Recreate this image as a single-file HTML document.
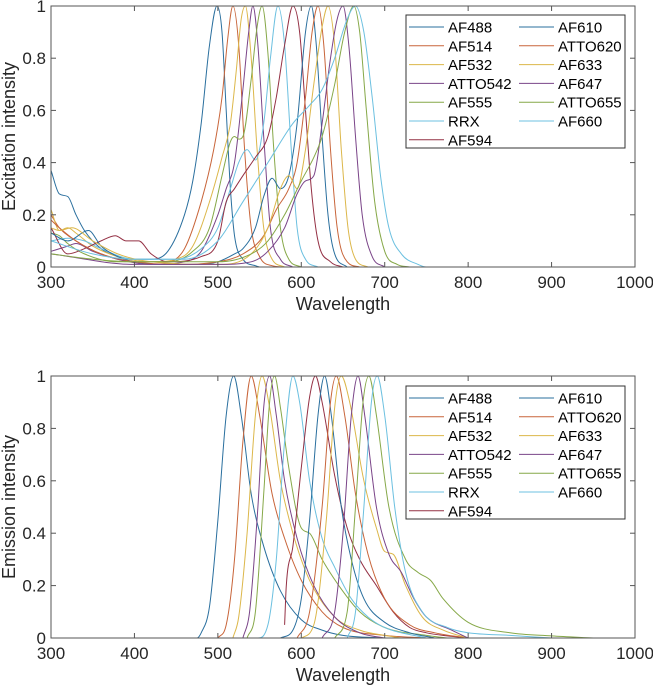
<!DOCTYPE html>
<html><head><meta charset="utf-8"><style>
html,body{margin:0;padding:0;background:#fff;}
svg{display:block;font-family:"Liberation Sans",Arial,sans-serif;}
</style></head><body>
<svg id="chart" width="653" height="690" viewBox="0 0 653 690" xmlns="http://www.w3.org/2000/svg"></svg>
<script>
const dyeNames = ["AF488","AF514","AF532","ATTO542","AF555","RRX","AF594","AF610","ATTO620","AF633","AF647","ATTO655","AF660"];
const xTicks = [300,400,500,600,700,800,900,1000];
const yTicks = [0,0.2,0.4,0.6,0.8,1];
const yTickLabels = ["0","0.2","0.4","0.6","0.8","1"];

const exAF488 = [[300,0.37],[310,0.28],[320,0.27],[330,0.2],[340,0.14],[360,0.07],[380,0.04],[400,0.03],[420,0.03],[440,0.06],[460,0.2],[470,0.33],[480,0.55],[490,0.85],[499,1],[505,0.9],[510,0.6],[515,0.3],[520,0.12],[530,0.03],[545,0.005],[550,0]];
const exAF514 = [[300,0.2],[310,0.15],[330,0.1],[360,0.05],[400,0.02],[440,0.02],[460,0.07],[480,0.25],[495,0.45],[505,0.65],[512,0.88],[518,1],[525,0.85],[532,0.45],[540,0.15],[550,0.04],[565,0.005],[580,0]];
const exAF532 = [[300,0.22],[310,0.14],[320,0.15],[330,0.13],[350,0.08],[380,0.04],[420,0.02],[450,0.03],[470,0.08],[490,0.25],[505,0.42],[515,0.55],[522,0.75],[528,0.95],[533,1],[540,0.8],[547,0.45],[555,0.15],[565,0.03],[580,0]];
const exATTO542 = [[300,0.06],[320,0.08],[330,0.09],[350,0.06],[380,0.03],[420,0.01],[460,0.02],[480,0.06],[500,0.2],[510,0.3],[520,0.4],[530,0.68],[537,0.9],[542,1],[548,0.85],[555,0.5],[563,0.15],[575,0.03],[590,0]];
const exAF555 = [[300,0.13],[310,0.12],[320,0.09],[340,0.05],[380,0.02],[440,0.02],[470,0.06],[490,0.15],[505,0.35],[515,0.48],[520,0.5],[525,0.49],[530,0.5],[540,0.72],[547,0.92],[553,1],[560,0.82],[567,0.45],[575,0.15],[585,0.03],[600,0]];
const exRRX = [[300,0.1],[320,0.11],[340,0.1],[360,0.07],[400,0.03],[450,0.03],[480,0.07],[500,0.15],[515,0.3],[525,0.4],[535,0.45],[545,0.41],[555,0.55],[563,0.8],[572,1],[580,0.85],[588,0.45],[595,0.15],[605,0.03],[620,0]];
const exAF594 = [[300,0.15],[320,0.05],[340,0.07],[360,0.1],[377,0.12],[390,0.1],[405,0.1],[420,0.05],[440,0.02],[480,0.04],[500,0.1],[510,0.25],[520,0.3],[530,0.35],[545,0.42],[560,0.5],[570,0.65],[580,0.85],[590,1],[598,0.9],[605,0.6],[612,0.3],[620,0.1],[635,0.02],[650,0]];
const exAF610 = [[300,0.13],[320,0.1],[345,0.14],[360,0.08],[380,0.04],[400,0.02],[440,0.01],[480,0.01],[500,0.02],[520,0.05],[530,0.07],[545,0.15],[555,0.27],[565,0.34],[575,0.3],[585,0.35],[595,0.55],[605,0.9],[612,1],[618,0.85],[625,0.5],[632,0.2],[640,0.05],[655,0]];
const exATTO620 = [[300,0.18],[310,0.15],[330,0.1],[360,0.05],[400,0.02],[450,0.01],[500,0.02],[530,0.05],[555,0.12],[570,0.22],[585,0.3],[595,0.4],[605,0.65],[613,0.9],[620,1],[627,0.85],[635,0.45],[643,0.15],[655,0.02],[670,0]];
const exAF633 = [[300,0.15],[310,0.14],[325,0.15],[350,0.1],[380,0.05],[420,0.02],[500,0.01],[540,0.05],[560,0.15],[575,0.3],[585,0.35],[595,0.3],[605,0.45],[615,0.7],[625,0.92],[632,1],[640,0.85],[648,0.45],[656,0.15],[665,0.03],[680,0]];
const exAF647 = [[300,0.05],[400,0.01],[500,0.01],[540,0.02],[560,0.06],[580,0.15],[595,0.28],[605,0.33],[615,0.35],[625,0.55],[635,0.8],[643,0.95],[650,1],[657,0.85],[665,0.5],[673,0.2],[685,0.04],[700,0]];
const exATTO655 = [[300,0.05],[350,0.03],[400,0.02],[500,0.02],[540,0.05],[560,0.1],[580,0.2],[600,0.33],[615,0.42],[625,0.5],[640,0.7],[652,0.9],[663,1],[670,0.9],[678,0.6],[688,0.25],[700,0.06],[715,0.01],[730,0]];
const exAF660 = [[300,0.1],[350,0.05],[400,0.03],[460,0.03],[500,0.1],[530,0.25],[560,0.4],[590,0.55],[610,0.62],[625,0.68],[640,0.8],[655,0.95],[665,1],[675,0.9],[685,0.65],[695,0.35],[705,0.15],[720,0.05],[740,0.01],[750,0],[950,0]];

const emAF488 = [[300,0],[475,0],[480,0.02],[490,0.12],[500,0.45],[510,0.85],[519,1],[528,0.85],[540,0.55],[555,0.35],[575,0.18],[600,0.07],[625,0.03],[650,0.01],[700,0]];
const emAF514 = [[500,0],[510,0.05],[520,0.3],[530,0.75],[540,1],[550,0.85],[565,0.55],[580,0.38],[600,0.22],[625,0.1],[650,0.04],[700,0.01],[750,0]];
const emAF532 = [[518,0],[525,0.08],[535,0.4],[545,0.85],[553,1],[562,0.88],[575,0.6],[590,0.4],[610,0.22],[640,0.08],[670,0.03],[700,0.01],[720,0]];
const emATTO542 = [[530,0],[538,0.1],[548,0.5],[555,0.88],[562,1],[570,0.85],[580,0.6],[595,0.38],[615,0.2],[640,0.08],[670,0.02],[700,0]];
const emAF555 = [[535,0],[545,0.1],[555,0.55],[562,0.9],[568,1],[575,0.88],[585,0.65],[600,0.42],[610,0.4],[625,0.3],[645,0.2],[670,0.1],[700,0.04],[750,0.01],[775,0]];
const emRRX = [[300,0],[548,0],[560,0.05],[570,0.3],[580,0.75],[590,1],[598,0.9],[610,0.6],[625,0.38],[640,0.27],[660,0.15],[680,0.08],[700,0.04],[750,0]];
const emAF594 = [[580,0.05],[582,0.2],[590,0.35],[600,0.65],[610,0.92],[617,1],[625,0.9],[640,0.62],[655,0.42],[670,0.3],[690,0.2],[710,0.1],[730,0.04],[750,0.02],[800,0]];
const emAF610 = [[575,0],[590,0.03],[600,0.15],[610,0.45],[620,0.85],[628,1],[636,0.85],[648,0.5],[660,0.3],[675,0.15],[700,0.06],[730,0.02],[760,0]];
const emATTO620 = [[595,0],[610,0.1],[625,0.5],[635,0.9],[642,1],[652,0.85],[665,0.55],[680,0.32],[700,0.15],[730,0.05],[760,0.02],[800,0]];
const emAF633 = [[600,0],[615,0.05],[630,0.45],[640,0.88],[648,1],[658,0.9],[675,0.6],[690,0.42],[700,0.33],[710,0.32],[725,0.2],[745,0.08],[770,0.03],[800,0]];
const emAF647 = [[625,0],[640,0.1],[650,0.4],[660,0.85],[668,1],[676,0.85],[690,0.5],[705,0.32],[720,0.25],[735,0.15],[750,0.08],[780,0.03],[800,0]];
const emATTO655 = [[640,0],[655,0.1],[665,0.5],[674,0.9],[681,1],[690,0.85],[705,0.5],[725,0.3],[740,0.25],[755,0.22],[770,0.15],[800,0.06],[850,0.02],[900,0.008],[950,0]];
const emAF660 = [[655,0],[665,0.1],[675,0.5],[684,0.9],[691,1],[700,0.85],[712,0.5],[725,0.25],[745,0.1],[775,0.04],[800,0.02],[850,0.01],[900,0]];

const exSeries = [exAF488,exAF514,exAF532,exATTO542,exAF555,exRRX,exAF594,exAF610,exATTO620,exAF633,exAF647,exATTO655,exAF660];
const emSeries = [emAF488,emAF514,emAF532,emATTO542,emAF555,emRRX,emAF594,emAF610,emATTO620,emAF633,emAF647,emATTO655,emAF660];

const colors = ["#2a6f9e","#c8653a","#dcb74a","#7a4488","#86a848","#6cc0e0","#943044"];
const NS = "http://www.w3.org/2000/svg";
const svg = document.getElementById("chart");

function mk(tag, attrs, parent){
  const e = document.createElementNS(NS, tag);
  for (const k in attrs) e.setAttribute(k, attrs[k]);
  (parent||svg).appendChild(e);
  return e;
}

// monotone cubic path through pixel points
function smoothPath(P){
  const n = P.length;
  if (n < 3) return P.map((p,j)=>(j?"L":"M")+p[0].toFixed(1)+" "+p[1].toFixed(1)).join(" ");
  const d = [], m = [];
  for (let i=0;i<n-1;i++) d.push((P[i+1][1]-P[i][1])/(P[i+1][0]-P[i][0]));
  m[0]=d[0]; m[n-1]=d[n-2];
  for (let i=1;i<n-1;i++) m[i] = (d[i-1]*d[i] <= 0) ? 0 : (d[i-1]+d[i])/2;
  for (let i=0;i<n-1;i++){
    if (d[i]===0){ m[i]=0; m[i+1]=0; continue; }
    const a=m[i]/d[i], b=m[i+1]/d[i], s=a*a+b*b;
    if (s>9){ const t=3/Math.sqrt(s); m[i]=t*a*d[i]; m[i+1]=t*b*d[i]; }
  }
  let s = "M"+P[0][0].toFixed(1)+" "+P[0][1].toFixed(1);
  for (let i=0;i<n-1;i++){
    const h=(P[i+1][0]-P[i][0])/3;
    s += " C"+(P[i][0]+h).toFixed(1)+" "+(P[i][1]+m[i]*h).toFixed(1)+" "+(P[i+1][0]-h).toFixed(1)+" "+(P[i+1][1]-m[i+1]*h).toFixed(1)+" "+P[i+1][0].toFixed(1)+" "+P[i+1][1].toFixed(1);
  }
  return s;
}

function drawPlot(series, top, bottom, yLabel, prefix, legTop){
  const left = 51, right = 635;
  const xs = v => left + (v - 300) / 700 * (right - left);
  const ys = v => bottom - v * (bottom - top);
  const g = mk("g", {});
  
  
  series.forEach((s, i) => {
    const pts = s.map(p => [xs(p[0]), ys(p[1])]);
    const p = mk("path", {d: smoothPath(pts), fill: "none", stroke: colors[i % 7], "stroke-width": 1}, g);
    
    
  });
  const box = mk("rect", {x: left, y: top, width: right-left, height: bottom-top, fill: "none", stroke: "#555", "stroke-width": 1}, g);
  
  
  xTicks.forEach(t => {
    const x = xs(t);
    mk("line", {x1: x, x2: x, y1: bottom, y2: bottom-5, stroke: "#555"}, g);
    mk("line", {x1: x, x2: x, y1: top, y2: top+5, stroke: "#555"}, g);
    const tx = mk("text", {x: x, y: bottom+21, "text-anchor": "middle", "font-size": 17, fill: "#262626"}, g);
    tx.textContent = t;
    
    
  });
  yTicks.forEach((t, i) => {
    const y = ys(t);
    mk("line", {x1: left, x2: left+5, y1: y, y2: y, stroke: "#555"}, g);
    mk("line", {x1: right, x2: right-5, y1: y, y2: y, stroke: "#555"}, g);
    const tx = mk("text", {x: left-5, y: y+6, "text-anchor": "end", "font-size": 17, fill: "#262626"}, g);
    tx.textContent = yTickLabels[i];
    
    
  });
  const xl = mk("text", {x: 343, y: bottom+43, "text-anchor": "middle", "font-size": 18, fill: "#262626"}, g);
  xl.textContent = "Wavelength";
  
  
  const cy = (top+bottom)/2;
  const yl = mk("text", {x: 15, y: cy, "text-anchor": "middle", "font-size": 18, fill: "#262626", transform: "rotate(-90 15 " + cy + ")"}, g);
  yl.textContent = yLabel;
  
  
  const lg = mk("g", {}, g);
  
  
  mk("rect", {x: 406, y: legTop, width: 219, height: 133, fill: "#fff", stroke: "#333", "stroke-width": 1}, lg);
  dyeNames.forEach((n, i) => {
    const col = i < 7 ? 0 : 1, row = i < 7 ? i : i - 7;
    const lx = col ? 519 : 409, ty = legTop + 12 + row * 18.8;
    const ent = mk("g", {}, lg);
    
    
    mk("line", {x1: lx, x2: lx+35, y1: ty, y2: ty, stroke: colors[i % 7], "stroke-width": 1}, ent);
    const t = mk("text", {x: lx+39, y: ty+5.5, "font-size": 15, fill: "#000"}, ent);
    t.textContent = n;
  });
}

drawPlot(exSeries, 6, 267, "Excitation intensity", "excitation", 15);
drawPlot(emSeries, 376, 638, "Emission intensity", "emission", 386);
</script>
</body></html>
